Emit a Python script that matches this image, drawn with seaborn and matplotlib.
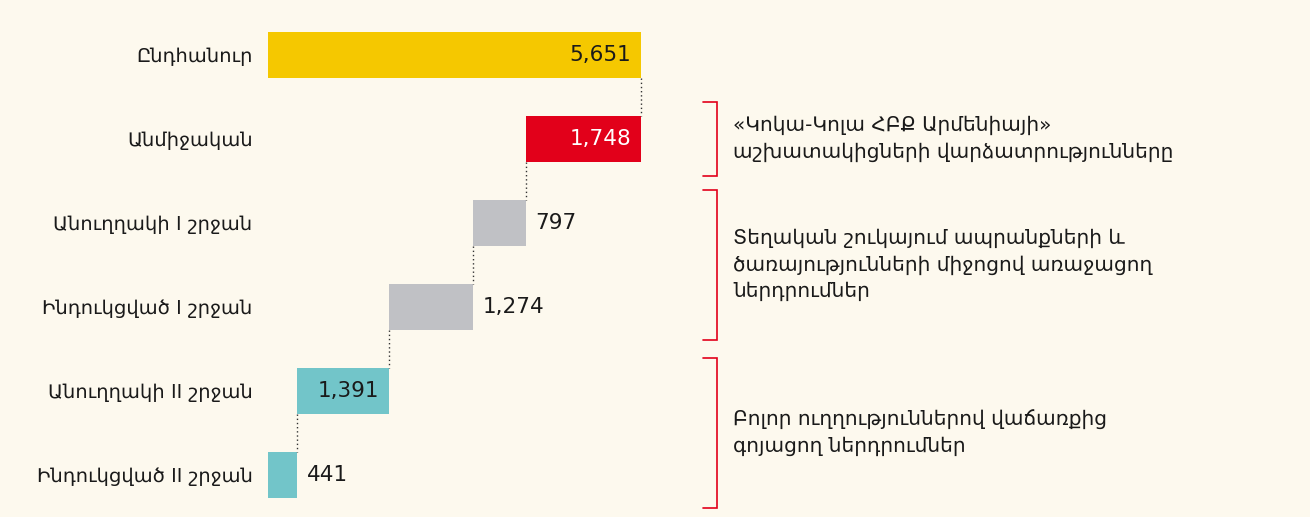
import matplotlib
matplotlib.use("Agg")
import matplotlib.pyplot as plt
import matplotlib.transforms as mtransforms
import seaborn as sns
import pandas as pd
import numpy as np

# ---- data ----
categories = ["Ընդհանուր", "Անմիջական", "Անուղղակի I շրջան",
              "Ինդուկցված I շրջան", "Անուղղակի II շրջան", "Ինդուկցված II շրջան"]
values = [5651, 1748, 797, 1274, 1391, 441]
value_labels = ["5,651", "1,748", "797", "1,274", "1,391", "441"]
bar_colors = ["#f5c800", "#e2001a", "#c0c1c5", "#c0c1c5", "#72c5c9", "#72c5c9"]
label_inside = [True, True, False, False, True, False]
label_colors = ["#1a1a1a", "#ffffff", "#1a1a1a", "#1a1a1a", "#1a1a1a", "#1a1a1a"]
group_texts = [
    "«Կոկա-Կոլա ՀԲՔ Արմենիայի»\nաշխատակիցների վարձատրությունները",
    "Տեղական շուկայում ապրանքների և\nծառայությունների միջոցով առաջացող\nներդրումներ",
    "Բոլոր ուղղություններով վաճառքից\nգոյացող ներդրումներ",
]
group_rows = [(1, 1), (2, 3), (4, 5)]

# waterfall geometry
starts = [0]
ends = [values[0]]
cur = values[0]
for v in values[1:]:
    starts.append(cur - v)
    ends.append(cur)
    cur = cur - v

BG = "#fdf9ee"
sns.set_theme(style="white")
plt.rcParams["font.family"] = ["DejaVu Sans"]

fig = plt.figure(figsize=(13.10, 5.17), dpi=100, facecolor=BG)
W, H = 1310, 517
ax = fig.add_axes([268 / W, 0 / H, 373 / W, 504 / H])
ax.set_facecolor(BG)

df = pd.DataFrame({"cat": categories, "end": ends, "start": starts})
bar_h = 0.54
sns.barplot(data=df, y="cat", x="end", hue="cat", palette=bar_colors,
            width=bar_h, legend=False, ax=ax, linewidth=0, saturation=1)
sns.barplot(data=df, y="cat", x="start", color=BG, width=bar_h + 0.02,
            legend=False, ax=ax, linewidth=0, saturation=1)

ax.set_xlim(0, values[0])
ax.set_ylim(len(categories) - 0.5, -0.5)
ax.set_xlabel("")
ax.set_ylabel("")
ax.set_xticks([])
ax.tick_params(axis="y", length=0, pad=11, labelsize=14, labelcolor="#1a1a1a")
for s in ax.spines.values():
    s.set_visible(False)

# connectors
for i in range(len(categories) - 1):
    x = ends[i + 1]
    ax.plot([x, x], [i + bar_h / 2, i + 1 - bar_h / 2], color="#333333",
            linestyle=(0, (1, 2)), linewidth=1.0, zorder=5, clip_on=False)

# value labels
for i, (e, lab) in enumerate(zip(ends, value_labels)):
    if label_inside[i]:
        ax.annotate(lab, (e, i), xytext=(-7.2, 0), textcoords="offset points",
                    ha="right", va="center", fontsize=15.5, color=label_colors[i],
                    annotation_clip=False)
    else:
        ax.annotate(lab, (e, i), xytext=(7, 0), textcoords="offset points",
                    ha="left", va="center", fontsize=15.5, color=label_colors[i],
                    annotation_clip=False)

# brackets and group texts
trans = mtransforms.blended_transform_factory(fig.transFigure, ax.transData)
bx0, bx1 = 703 / W, 717 / W
for (r0, r1), txt in zip(group_rows, group_texts):
    pad = 0.44 if r0 == r1 else 0.39
    y0, y1 = r0 - pad, r1 + pad
    ax.plot([bx0, bx1, bx1, bx0], [y0, y0, y1, y1], color="#e2001a",
            linewidth=1.2, transform=trans, clip_on=False,
            solid_joinstyle="miter")
    ax.text(733 / W, (r0 + r1) / 2, txt, transform=trans, ha="left",
            va="center", fontsize=14.5, color="#1a1a1a", linespacing=1.45)

fig.savefig("out.png", dpi=100, facecolor=BG)
